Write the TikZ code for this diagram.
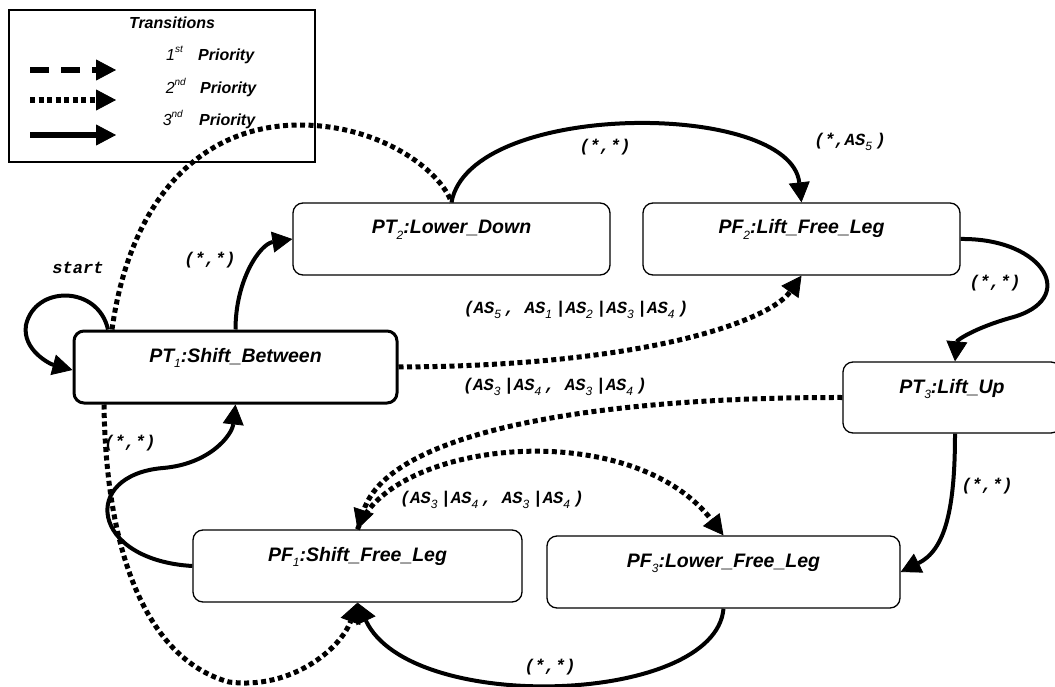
\documentclass[tikz,border=0pt]{standalone}
\usepackage{fontspec}
\setmainfont{Liberation Sans}
\newfontfamily\helvfam{Liberation Sans}
\newfontfamily\monofam{Liberation Mono}
\usetikzlibrary{arrows.meta}
\newcommand\nsub[1]{\raisebox{-0.3em}{\fontsize{12}{12}\selectfont\mdseries\itshape #1}}
\newcommand\msub[1]{\makebox[0.6em][l]{\raisebox{-0.3em}{\fontsize{12}{12}\selectfont\helvfam\mdseries\itshape #1}}}
\newcommand\lsup[1]{\raisebox{0.5em}{\fontsize{10}{10}\selectfont #1}}
\newcommand\nodefnt{\fontsize{19.5}{20}\selectfont\bfseries\itshape}
\newcommand\lblfnt{\fontsize{17}{17}\selectfont\monofam\bfseries\itshape}
\newcommand\legfnt{\fontsize{16}{16}\selectfont}
\tikzset{
  stbox/.style={draw, line width=1.3pt, rounded corners=10pt, inner sep=0pt,
    text height=31pt, text depth=41pt, font=\nodefnt},
  tipbig/.tip={Triangle[length=20pt,width=21pt,line width=0.8pt]},
  trsolid/.style={line width=4pt, -tipbig},
  trdot/.style={line width=5pt, dash pattern=on 5pt off 3.5pt, -tipbig},
  trdotplain/.style={line width=5pt, dash pattern=on 5pt off 3.5pt},
  lbl/.style={font=\lblfnt, inner sep=0pt},
  legtxt/.style={font=\legfnt, inner sep=0pt},
}
\begin{document}
\begin{tikzpicture}[x=1pt,y=-1pt]
\useasboundingbox (0,0) rectangle (1055,687);

% legend
\node[draw, line width=1.2pt, minimum width=306pt, minimum height=152pt, inner sep=0pt] (legend) at (162,86) {};
\node[legtxt, anchor=base] (legtitle) at (172,29) {\bfseries\itshape Transitions};
\node[legtxt, anchor=base east] (p1n) at (183,61) {\itshape 1\lsup{st}};
\node[legtxt, anchor=base west] (p1t) at (198,61) {\bfseries\itshape Priority};
\node[legtxt, anchor=base east] (p2n) at (186,94) {\itshape 2\lsup{nd}};
\node[legtxt, anchor=base west] (p2t) at (200,94) {\bfseries\itshape Priority};
\node[legtxt, anchor=base east] (p3n) at (183,126) {\itshape 3\lsup{nd}};
\node[legtxt, anchor=base west] (p3t) at (199,126) {\bfseries\itshape Priority};
\coordinate (l1a) at (30,70);  \coordinate (l1b) at (116,70);
\coordinate (l2a) at (30,100); \coordinate (l2b) at (116,100);
\coordinate (l3a) at (30,135); \coordinate (l3b) at (116,135);
\draw[line width=5.5pt, dash pattern=on 19pt off 12pt, -tipbig] (l1a) -- (l1b);
\draw[line width=5.5pt, dash pattern=on 5pt off 3.5pt, -tipbig] (l2a) -- (l2b);
\draw[line width=5.5pt, -tipbig] (l3a) -- (l3b);

% states
\node[stbox, line width=3pt, minimum width=323pt] (pt1) at (235.5,367) {PT\nsub{1}:Shift\_Between};
\node[stbox, minimum width=317pt] (pt2) at (451.5,239) {PT\nsub{2}:Lower\_Down};
\node[stbox, minimum width=317pt] (pf2) at (801.5,239) {PF\nsub{2}:Lift\_Free\_Leg};
\node[stbox, minimum width=218pt, text depth=40pt] (pt3) at (952,397.5) {PT\nsub{3}:Lift\_Up};
\node[stbox, minimum width=329pt] (pf1) at (357.5,566) {PF\nsub{1}:Shift\_Free\_Leg};
\node[stbox, minimum width=353pt] (pf3) at (723.5,572) {PF\nsub{3}:Lower\_Free\_Leg};

% transitions
\draw[trsolid] ([xshift=-127.5pt]pt1.north) .. controls (98,285) and (35,285) .. (26,325)
   .. controls (22,350) and (50,364) .. ([yshift=-3pt]pt1.west);
\draw[trdotplain] ([xshift=-123.5pt]pt1.north) .. controls (130,200) and (200,125) .. (300,125)
   .. controls (380,125) and (440,170) .. (pt2.north);
\draw[trsolid] (pt1.north) .. controls (235.5,280) and (260,244) .. (pt2.west);
\draw[trsolid] (pt2.north) .. controls (470,100) and (790,100) .. (pf2.north);
\draw[trsolid] (pf2.east) .. controls (1045,238) and (1080,300) .. (1010,318)
   .. controls (975,328) and (957,340) .. ([xshift=3pt]pt3.north);
\draw[trdot] (pt1.east) .. controls (650,366) and (770,320) .. (pf2.south);
\draw[trdot] (pt3.west) .. controls (600,397) and (390,430) .. (pf1.north);
\draw[trdot] (pf1.north) .. controls (390,440) and (630,415) .. (pf3.north);
\draw[trsolid] ([xshift=3pt]pt3.south) .. controls (955,510) and (945,550) .. (pf3.east);
\draw[trdot] ([xshift=-131.5pt]pt1.south) .. controls (106,560) and (150,660) .. (229,682)
   .. controls (290,690) and (340,650) .. (pf1.south);
\draw[trsolid] (pf3.south) .. controls (715,705) and (410,715) .. (pf1.south);
\draw[trsolid] (pf1.west) .. controls (90,560) and (80,475) .. (163,468)
   .. controls (210,464) and (232,435) .. (pt1.south);

% labels
\node[lbl] (lstart) at (78,268) {start};
\node[lbl] (l12) at (210,260) {(*,*)};
\node[lbl] (ltop) at (605,147) {(*,*)};
\node[lbl] (las5) at (850,142) {(*,AS\msub{5})};
\node[lbl] (lright) at (995,283) {(*,*)};
\node[lbl] (lmid1) at (576,310) {(AS\msub{5}, AS\msub{1}|AS\msub{2}|AS\msub{3}|AS\msub{4})};
\node[lbl] (lmid2) at (555,387) {(AS\msub{3}|AS\msub{4}, AS\msub{3}|AS\msub{4})};
\node[lbl] (lmid3) at (492,500) {(AS\msub{3}|AS\msub{4}, AS\msub{3}|AS\msub{4})};
\node[lbl] (lpt3) at (987,486) {(*,*)};
\node[lbl] (lbot) at (550,667) {(*,*)};
\node[lbl] (lleft) at (130,443) {(*,*)};
\end{tikzpicture}
\end{document}
